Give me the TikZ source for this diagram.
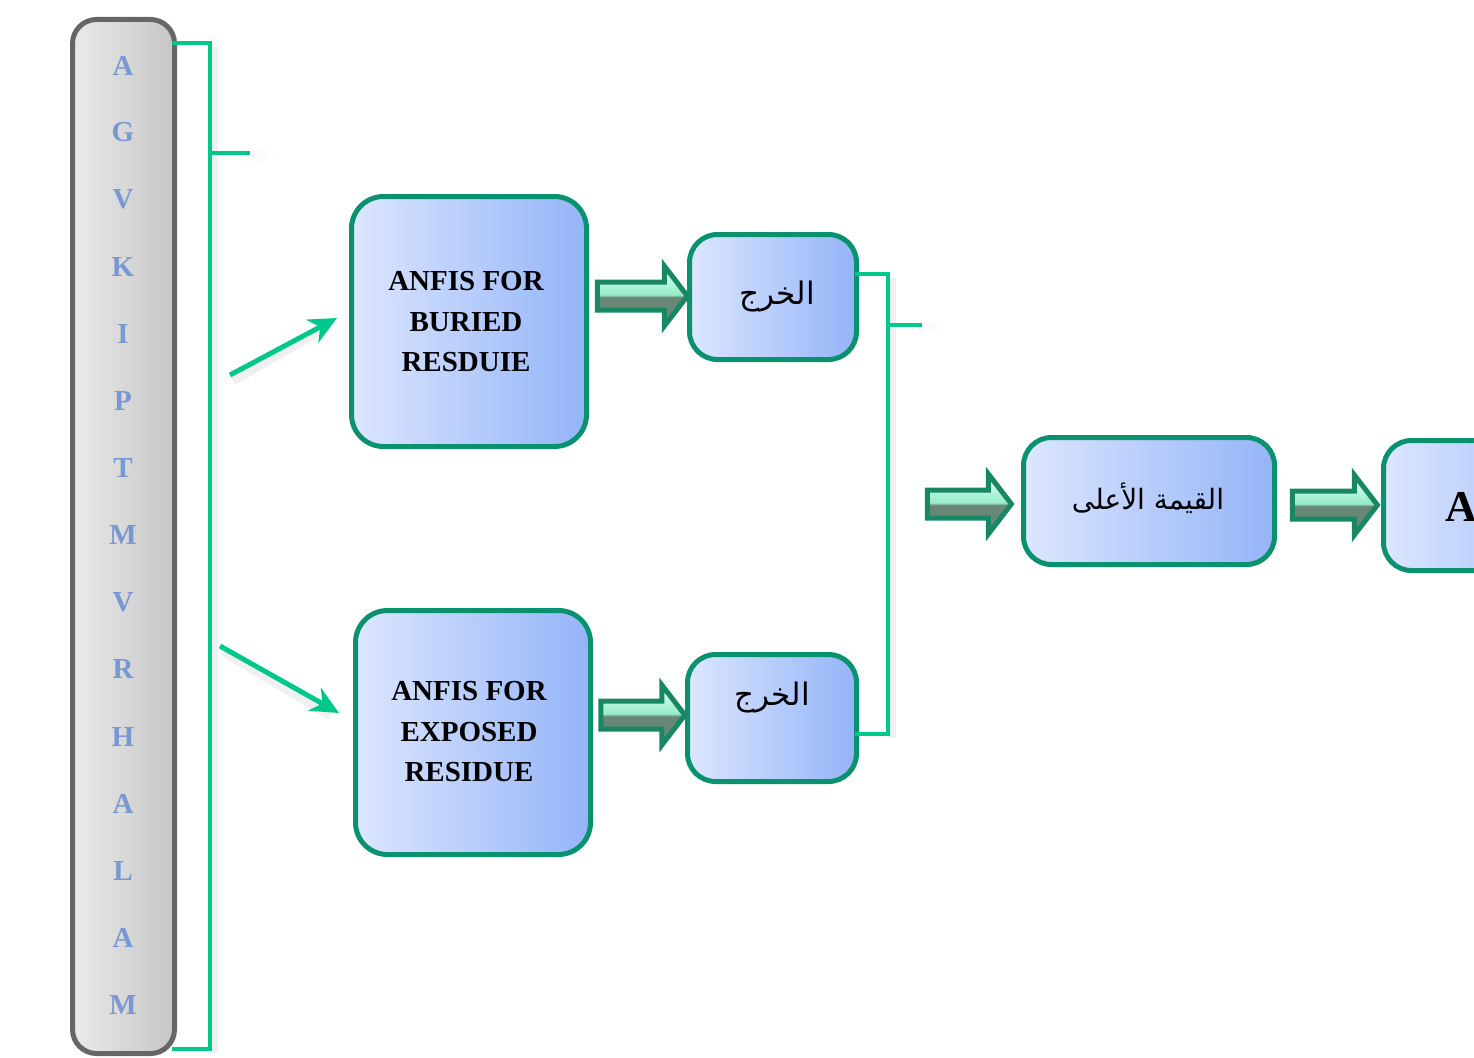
\documentclass[tikz,border=0pt]{standalone}
\usepackage{fontspec}
\setmainfont{Liberation Serif}
\newfontfamily\arabicfont[Script=Arabic]{DejaVu Sans}
\TeXXeTstate=1
\usetikzlibrary{shapes.arrows,calc,arrows.meta}
\definecolor{brk}{RGB}{0,200,140}
\definecolor{bord}{RGB}{10,145,110}
\definecolor{boxL}{RGB}{220,230,254}
\definecolor{boxR}{RGB}{148,180,248}
\definecolor{letter}{RGB}{120,152,212}
\definecolor{colL}{RGB}{234,234,234}
\definecolor{colR}{RGB}{198,198,198}
\definecolor{colB}{RGB}{102,102,102}
\definecolor{arrT}{RGB}{215,255,240}
\definecolor{arrM}{RGB}{150,235,200}
\definecolor{arrB}{RGB}{105,135,118}
\definecolor{arrBB}{RGB}{80,115,95}
\definecolor{arrD}{RGB}{25,135,100}
\pgfdeclareverticalshading{arrowsh}{100bp}{color(0bp)=(arrBB); color(30bp)=(arrB); color(49bp)=(arrB); color(51bp)=(arrM); color(70bp)=(arrT); color(100bp)=(arrT)}
\begin{document}
\begin{tikzpicture}[x=1pt,y=-1pt,
  box/.style={draw=bord, line width=5pt, rounded corners=32pt, left color=boxL, right color=boxR,
    inner sep=0pt},
  boxtext/.style={inner sep=0pt, align=center, font=\bfseries\fontsize{29}{40.5}\selectfont},
  colbox/.style={draw=colB, line width=5pt, rounded corners=24pt, left color=colL, right color=colR, inner sep=0pt},
  aa/.style={letter, font=\bfseries\fontsize{29}{30}\selectfont, inner sep=0pt},
  artext/.style={font=\arabicfont\fontsize{31}{34}\selectfont, inner sep=0pt},
  blk/.style={single arrow, draw=arrD, line width=5pt, shading=arrowsh,
    inner xsep=0pt, inner ysep=11.5pt, text height=0pt, text depth=0pt,
    single arrow head extend=16pt, single arrow tip angle=105},
  brkline/.style={brk, line width=4.5pt},
  greenarrow/.style={brk, line width=5pt, -{Stealth[length=28pt,width=26pt,inset=9pt]}},
  shade/.style={black, opacity=0.06, line width=8pt}
]
\useasboundingbox (0,0) rectangle (1474,1057);

% left column
\node[colbox, minimum width=102pt, minimum height=1034pt] (col) at (123.5,536.5) {};
\foreach \l/\y [count=\i] in {A/66,G/132,V/199,K/267,I/334,P/401,T/468,M/535,V/602,R/669,H/737,A/804,L/871,A/938,M/1005}
  \node[aa] (L\i) at (123,\y) {\l};

% bracket 1
\coordinate (b1top) at (172,43);
\coordinate (b1tr) at (210,43);
\coordinate (b1br) at (210,1049);
\coordinate (b1bot) at (172,1049);
\coordinate (b1tick) at (210,153);
\coordinate (b1tickend) at (250,153);
\draw[shade] ($(b1tr)+(4,4)$) -- ($(b1br)+(4,4)$);
\shade[left color=black!40, right color=white] (246,150) rectangle (276,160);
\draw[brkline] (b1top) -- (b1tr) -- (b1br) -- (b1bot);
\draw[brkline] (b1tick) -- (b1tickend);

% main boxes
\node[box, minimum width=235pt, minimum height=250pt] (b1) at (469,321.5) {};
\node[boxtext] (t1) at (466,322) {ANFIS FOR\\BURIED\\RESDUIE};
\node[box, minimum width=235pt, minimum height=244pt] (b2) at (473,732.5) {};
\node[boxtext] (t2) at (469,732) {ANFIS FOR\\EXPOSED\\RESIDUE};

% green arrows
\coordinate (g1s) at (230,375);
\coordinate (g2s) at (220,646);
\draw[shade] ($(g1s)+(3,6)$) -- (330,326);
\draw[greenarrow] (g1s) -- (337,318) coordinate (g1e);
\draw[shade] ($(g2s)+(3,6)$) -- (330,716);
\draw[greenarrow] (g2s) -- (339,713) coordinate (g2e);

% output boxes
\node[box, rounded corners=28pt, minimum width=167pt, minimum height=125pt] (o1) at (773,297) {};
\node[artext] (o1t) at (777,297) {\beginR الخرج\endR};
\node[box, rounded corners=28pt, minimum width=169pt, minimum height=127pt] (o2) at (772,718) {};
\node[artext] (o2t) at (772,697) {\beginR الخرج\endR};

% block arrows
\node[blk, minimum height=90pt] (a1) at (637,296) {};
\node[blk, minimum height=84pt] (a2) at (637.5,715) {};

% bracket 2
\coordinate (b2top) at (855,274);
\coordinate (b2tr) at (888,274);
\coordinate (b2br) at (888,734);
\coordinate (b2bot) at (855,734);
\draw[shade] ($(b2tr)+(4,4)$) -- ($(b2br)+(4,4)$);
\shade[left color=black!40, right color=white] (918,322) rectangle (948,332);
\draw[brkline] (b2top) -- (b2tr) -- (b2br) -- (b2bot);
\draw[brkline] (888,325) coordinate (b2tick) -- (922,325) coordinate (b2tickend);

% max value box
\node[blk, minimum height=84pt] (a3) at (964,504) {};
\node[box, rounded corners=28pt, minimum width=251pt, minimum height=127pt] (o3) at (1149,501) {};
\node[artext, font=\arabicfont\fontsize{28}{32}\selectfont] (o3t) at (1148,498) {\beginR القيمة الأعلى\endR};

% final box
\node[blk, minimum height=85pt] (a4) at (1329.5,505) {};
\node[box, rounded corners=28pt, minimum width=235pt, minimum height=130pt] (o4) at (1501,505.5) {};
\node[font=\bfseries\fontsize{44}{48}\selectfont, inner sep=0pt, anchor=west] (o4t) at (1445,507) {A};
\end{tikzpicture}
\end{document}
